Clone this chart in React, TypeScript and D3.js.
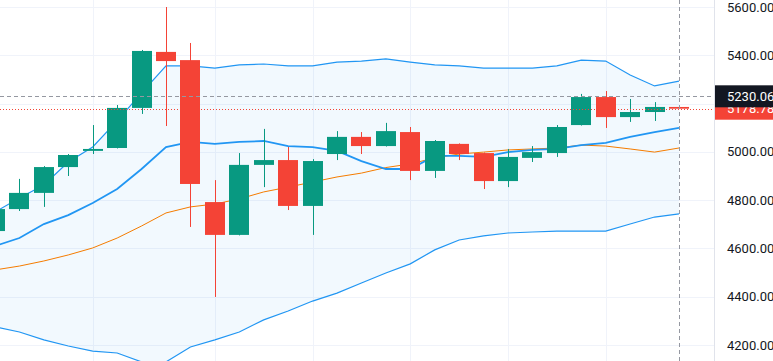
import React, { useRef, useEffect } from "react";
import * as d3 from "d3";

// weekly candles
const opens = [4672, 4763, 4830, 4937, 5004, 5016, 5182, 5414, 5380, 4792, 4656, 4946, 4966, 4776, 4991, 5062, 5024, 5082, 4921, 5033, 4995, 4879, 4975, 4995, 5111, 5227, 5144, 5165, 5186];
const highs = [4775, 4888, 4941, 4991, 5111, 5194, 5422, 5600, 5451, 4883, 4995, 5095, 5020, 4970, 5086, 5082, 5120, 5103, 5049, 5035, 4997, 5012, 5024, 5111, 5240, 5252, 5219, 5206, 5187];
const lows = [4660, 4755, 4772, 4900, 4991, 5014, 5157, 5107, 4689, 4399, 4654, 4854, 4759, 4656, 4966, 4991, 5022, 4883, 4892, 4966, 4846, 4854, 4958, 4979, 5109, 5099, 5124, 5128, 5178];
const closes = [4763, 4830, 4937, 4987, 5012, 5182, 5418, 5376, 4867, 4656, 4946, 4966, 4776, 4962, 5062, 5024, 5086, 4921, 5045, 4991, 4879, 4979, 4999, 5103, 5227, 5144, 5165, 5186, 5178.78];

// bollinger bands + extra moving average
const upperBand = [4751, 4809, 4863, 4958, 5020, 5128, 5244, 5356, 5356, 5347, 5360, 5364, 5356, 5356, 5372, 5376, 5385, 5372, 5360, 5356, 5347, 5347, 5347, 5356, 5380, 5376, 5318, 5273, 5293];
const basisLine = [4511, 4527, 4548, 4573, 4602, 4643, 4693, 4747, 4772, 4784, 4805, 4834, 4854, 4875, 4896, 4912, 4935, 4950, 4975, 4991, 4999, 5008, 5012, 5016, 5028, 5024, 5012, 4999, 5016];
const lowerBand = [4275, 4254, 4221, 4196, 4175, 4167, 4130, 4130, 4192, 4221, 4254, 4304, 4341, 4382, 4415, 4457, 4498, 4536, 4594, 4635, 4652, 4664, 4668, 4672, 4672, 4672, 4701, 4730, 4743];
const emaLine = [4610, 4643, 4701, 4738, 4788, 4846, 4929, 5020, 5041, 5033, 5041, 5045, 5024, 5020, 5004, 4962, 4929, 4929, 4983, 4983, 4979, 4999, 5008, 5012, 5028, 5037, 5062, 5082, 5099];

const priceTicks = [4200, 4400, 4600, 4800, 5000, 5200, 5400, 5600];
const gridCandles = [4, 9, 13, 17, 21, 25];
const crosshairPrice = 5230.06;
const lastPrice = 5178.78;

const W = 773;
const H = 361;
const axisX = 714;

const UP = "#089981";
const DOWN = "#f44336";
const BAND = "#2196f3";

const App: React.FC = () => {
  const ref = useRef<SVGSVGElement | null>(null);

  useEffect(() => {
    const svg = d3.select(ref.current);
    svg.selectAll("*").remove();

    const n = closes.length;
    const x = d3.scaleLinear().domain([0, n - 1]).range([-5, 679]);
    const y = d3.scaleLinear().domain([4200, 5600]).range([345, 7]);
    const step = x(1) - x(0);
    const bodyW = Math.round(step * 0.8);
    const idx = d3.range(n);

    const font = "Roboto, 'Trebuchet MS', sans-serif";

    svg.append("rect").attr("width", W).attr("height", H).attr("fill", "#fff");

    const clip = svg.append("defs").append("clipPath").attr("id", "pane");
    clip.append("rect").attr("width", axisX).attr("height", H);

    const pane = svg.append("g").attr("clip-path", "url(#pane)");

    // grid
    pane
      .selectAll("line.hg")
      .data(priceTicks)
      .join("line")
      .attr("x1", 0)
      .attr("x2", axisX)
      .attr("y1", (d) => Math.round(y(d)) + 0.5)
      .attr("y2", (d) => Math.round(y(d)) + 0.5)
      .attr("stroke", "#f0f3fa");
    pane
      .selectAll("line.vg")
      .data(gridCandles)
      .join("line")
      .attr("x1", (d) => Math.round(x(d)) + 0.5)
      .attr("x2", (d) => Math.round(x(d)) + 0.5)
      .attr("y1", 0)
      .attr("y2", H)
      .attr("stroke", "#f0f3fa");

    // band fill
    const area = d3
      .area<number>()
      .x((i) => x(i))
      .y0((i) => y(lowerBand[i]))
      .y1((i) => y(upperBand[i]));
    pane
      .append("path")
      .datum(idx)
      .attr("d", area)
      .attr("fill", "rgba(33,150,243,0.06)");

    const line = (vals: number[]) =>
      d3
        .line<number>()
        .x((i) => x(i))
        .y((i) => y(vals[i]))(idx);

    pane.append("path").attr("d", line(upperBand)).attr("fill", "none").attr("stroke", BAND).attr("stroke-width", 1.2);
    pane.append("path").attr("d", line(lowerBand)).attr("fill", "none").attr("stroke", BAND).attr("stroke-width", 1.2);
    pane.append("path").attr("d", line(basisLine)).attr("fill", "none").attr("stroke", "#f57c00").attr("stroke-width", 1);
    pane.append("path").attr("d", line(emaLine)).attr("fill", "none").attr("stroke", BAND).attr("stroke-width", 1.8);

    // candles
    const c = pane.selectAll("g.candle").data(idx).join("g");
    c.append("line")
      .attr("x1", (i) => Math.round(x(i)) + 0.5)
      .attr("x2", (i) => Math.round(x(i)) + 0.5)
      .attr("y1", (i) => y(highs[i]))
      .attr("y2", (i) => y(lows[i]))
      .attr("stroke", (i) => (closes[i] >= opens[i] ? UP : DOWN));
    c.append("rect")
      .attr("x", (i) => Math.round(x(i)) - Math.floor(bodyW / 2))
      .attr("width", bodyW)
      .attr("y", (i) => y(Math.max(opens[i], closes[i])))
      .attr("height", (i) => Math.max(1, Math.abs(y(opens[i]) - y(closes[i]))))
      .attr("fill", (i) => (closes[i] >= opens[i] ? UP : DOWN));

    // last price line (dotted) and crosshair
    pane
      .append("line")
      .attr("x1", 0)
      .attr("x2", axisX)
      .attr("y1", Math.round(y(lastPrice)) + 0.5)
      .attr("y2", Math.round(y(lastPrice)) + 0.5)
      .attr("stroke", DOWN)
      .attr("stroke-dasharray", "1 2");
    pane
      .append("line")
      .attr("x1", 0)
      .attr("x2", axisX)
      .attr("y1", Math.round(y(crosshairPrice)) + 0.5)
      .attr("y2", Math.round(y(crosshairPrice)) + 0.5)
      .attr("stroke", "#9598a1")
      .attr("stroke-dasharray", "4 3");
    pane
      .append("line")
      .attr("x1", Math.round(x(n - 1)) + 0.5)
      .attr("x2", Math.round(x(n - 1)) + 0.5)
      .attr("y1", 0)
      .attr("y2", H)
      .attr("stroke", "#9598a1")
      .attr("stroke-dasharray", "4 3");

    // price scale
    const ax = svg.append("g");
    ax.append("rect").attr("x", axisX).attr("width", W - axisX).attr("height", H).attr("fill", "#fff");
    ax.append("line")
      .attr("x1", axisX + 0.5)
      .attr("x2", axisX + 0.5)
      .attr("y1", 0)
      .attr("y2", H)
      .attr("stroke", "#e0e3eb");
    ax.selectAll("text.tick")
      .data(priceTicks)
      .join("text")
      .attr("x", 727)
      .attr("y", (d) => y(d))
      .attr("dy", "0.35em")
      .attr("fill", "#131722")
      .style("font-family", font)
      .style("font-size", "13px")
      .text((d) => d3.format(".2f")(d));

    const label = (v: number, bg: string) => {
      const cy = y(v);
      ax.append("rect").attr("x", axisX + 1).attr("y", cy - 11).attr("width", W - axisX).attr("height", 22).attr("fill", bg);
      ax.append("text")
        .attr("x", 727)
        .attr("y", cy)
        .attr("dy", "0.35em")
        .attr("fill", "#fff")
        .style("font-family", font)
        .style("font-size", "13px")
        .text(d3.format(".2f")(v));
    };
    label(lastPrice, DOWN);
    label(crosshairPrice, "#131722");
  }, []);

  return (
    <div style={{ position: "fixed", left: 0, top: 0 }}>
      <svg ref={ref} width={W} height={H} style={{ display: "block" }} />
    </div>
  );
};

export default App;
